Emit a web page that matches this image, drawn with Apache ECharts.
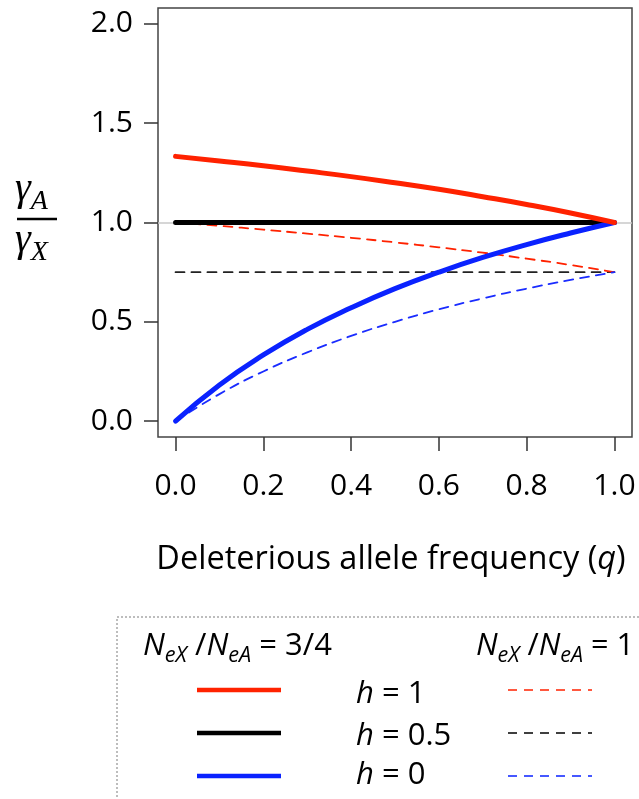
<!DOCTYPE html>
<html>
<head>
<meta charset="utf-8">
<script src="https://cdn.jsdelivr.net/npm/echarts@6/dist/echarts.min.js"></script>
<style>
html,body{margin:0;padding:0;background:#fff;}
#chart{width:639px;height:799px;}
</style>
</head>
<body>
<div id="chart"></div>
<script>
// Deleterious allele frequency (q)
const qValues = [0, 0.1, 0.2, 0.3, 0.4, 0.5, 0.6, 0.7, 0.8, 0.9, 1.0];
// NeX/NeA = 3/4 (solid)
const redSolid   = [1.333, 1.310, 1.286, 1.259, 1.231, 1.200, 1.167, 1.130, 1.091, 1.048, 1.000];
const blackSolid = [1.000, 1.000, 1.000, 1.000, 1.000, 1.000, 1.000, 1.000, 1.000, 1.000, 1.000];
const blueSolid  = [0.000, 0.182, 0.333, 0.462, 0.571, 0.667, 0.750, 0.824, 0.889, 0.947, 1.000];
// NeX/NeA = 1 (dashed)
const redDashed   = [1.000, 0.983, 0.964, 0.944, 0.923, 0.900, 0.875, 0.848, 0.818, 0.786, 0.750];
const blackDashed = [0.750, 0.750, 0.750, 0.750, 0.750, 0.750, 0.750, 0.750, 0.750, 0.750, 0.750];
const blueDashed  = [0.000, 0.136, 0.250, 0.346, 0.429, 0.500, 0.563, 0.618, 0.667, 0.711, 0.750];
// tick labels
const xTicks = [0, 0.2, 0.4, 0.6, 0.8, 1.0];
const yTicks = [0, 0.5, 1.0, 1.5, 2.0];
const refLine = 1.0;

const RED = '#ff2200', BLACK = '#000000', BLUE = '#0a22ff';
const FONT = 'Open Sans';

function pairs(ys){ return qValues.map((q,i)=>[q, ys[i]]); }

const chart = echarts.init(document.getElementById('chart'), null, {renderer:'canvas'});

const mctx = document.createElement('canvas').getContext('2d');
function measure(t, size, italic, family){
  mctx.font = (italic?'italic ':'') + size + 'px ' + (family||FONT);
  return mctx.measureText(t).width;
}
// compose a sequence of pieces [text, size, italic, baselineShift]; optional target width scales sizes
function compose(pieces, x0, baseline, family, targetW){
  let scale = 1;
  if (targetW) {
    let w = 0; pieces.forEach(p => { w += measure(p[0], p[1], p[2], family); });
    scale = targetW / w;
  }
  const out = [];
  let x = x0;
  pieces.forEach(p => {
    const [t, size0, it, dy] = p;
    const size = size0 * scale;
    out.push({
      type:'text', x:x, y: baseline + (dy||0) - 0.33*size,
      style:{text:t, x:0, y:0, fill:'#000', font:(it?'italic ':'') + size.toFixed(1) + 'px ' + (family||FONT), verticalAlign:'middle', align:'left'},
      silent:true
    });
    x += measure(t, size, it, family);
  });
  return out;
}

const graphics = [];
// y-axis title fraction
graphics.push(...compose([['γ',40,true,0],['A',28,true,8]], 15, 203, 'Liberation Serif'));
graphics.push({type:'line', shape:{x1:17,y1:219,x2:57,y2:219}, style:{stroke:'#000', lineWidth:2.5}, silent:true});
graphics.push(...compose([['γ',40,true,0],['X',28,true,8]], 15, 254, 'Liberation Serif'));
// x-axis title, sized to the reference width
const titleTxt = 'Deleterious allele frequency (q)';
const tSize = Math.min(34, 30 * 470 / measure(titleTxt, 30, false));
graphics.push({type:'text', x:391, y:560, silent:true,
  style:{text:'Deleterious allele frequency ({i|q})', fill:'#000', font:tSize.toFixed(1)+'px '+FONT, align:'center', verticalAlign:'middle',
    rich:{i:{fontStyle:'italic', fontSize:tSize, fontFamily:FONT, fill:'#000'}}}});
// legend box (dotted)
graphics.push({type:'rect', shape:{x:117, y:617, width:700, height:400}, style:{fill:'none', stroke:'#bdbdbd', lineWidth:2, lineDash:[2,2]}, silent:true});
// legend headers
graphics.push(...compose([['N',30,true,0],['eX',21,true,7],[' /',30,false,0],['N',30,true,0],['eA',21,true,7],[' = 3/4',30,false,0]], 143, 656, null, 189));
graphics.push(...compose([['N',30,true,0],['eX',21,true,7],[' /',30,false,0],['N',30,true,0],['eA',21,true,7],[' = 1',30,false,0]], 476, 656, null, 158));
// legend rows
const rows = [
  {lab:'1', col:RED, y:690, ty:704},
  {lab:'0.5', col:BLACK, y:733, ty:746},
  {lab:'0', col:BLUE, y:776, ty:785}
];
rows.forEach(r => {
  graphics.push({type:'line', shape:{x1:197,y1:r.y,x2:281,y2:r.y}, style:{stroke:r.col, lineWidth:4.5}, silent:true});
  graphics.push({type:'line', shape:{x1:508,y1:r.y,x2:592,y2:r.y}, style:{stroke:r.col, lineWidth:1.7, lineDash:[9,7]}, silent:true});
  graphics.push(...compose([['h',31,true,0],[' = '+r.lab,31,false,0]], 356, r.ty));
});

function lineSeries(name, ys, color, width, dashed, z){
  return {
    name, type:'line', data:pairs(ys), smooth:true, symbol:'none', z:z,
    lineStyle:{color, width, type: dashed ? [9,7] : 'solid', cap:'round'},
    emphasis:{disabled:true}, silent:true
  };
}

const option = {
  animation:false,
  backgroundColor:'#fff',
  grid:{left:158, right:7, top:8, bottom:362, show:true, borderColor:'#444', borderWidth:1.5, backgroundColor:'transparent'},
  xAxis:{
    type:'value', min:-0.04, max:1.04,
    axisLine:{show:false, onZero:false}, splitLine:{show:false},
    axisTick:{show:true, inside:false, customValues:xTicks, length:14, lineStyle:{color:'#333', width:1.5}},
    axisLabel:{show:true, customValues:xTicks, formatter:v=>Number(v).toFixed(1), fontSize:30, fontFamily:FONT, color:'#000', margin:34}
  },
  yAxis:{
    type:'value', min:-0.08, max:2.08,
    axisLine:{show:false, onZero:false}, splitLine:{show:false},
    axisTick:{show:true, inside:false, customValues:yTicks, length:14, lineStyle:{color:'#333', width:1.5}},
    axisLabel:{show:true, customValues:yTicks, formatter:v=>Number(v).toFixed(1), fontSize:30, fontFamily:FONT, color:'#000', margin:25}
  },
  series:[
    Object.assign(lineSeries('blackDashed', blackDashed, '#222', 1.8, true, 2), {
      markLine:{silent:true, symbol:['none','none'], label:{show:false}, lineStyle:{color:'#c8c8c8', width:1.5, type:'solid'}, data:[{yAxis:refLine}], z:1}
    }),
    lineSeries('redDashed', redDashed, RED, 1.8, true, 3),
    lineSeries('blueDashed', blueDashed, '#1a2cff', 1.8, true, 3),
    lineSeries('blackSolid', blackSolid, BLACK, 5, false, 4),
    lineSeries('blueSolid', blueSolid, BLUE, 5, false, 5),
    lineSeries('redSolid', redSolid, RED, 5, false, 6)
  ],
  graphic:graphics
};
chart.setOption(option);
</script>
</body>
</html>
